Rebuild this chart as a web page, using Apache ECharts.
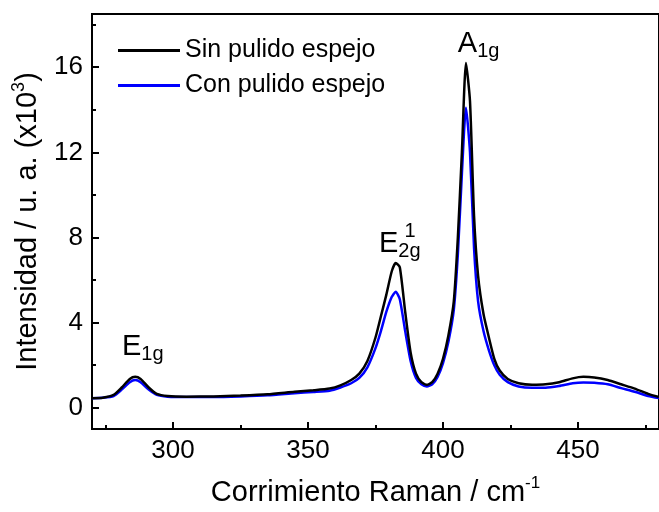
<!DOCTYPE html>
<html>
<head>
<meta charset="utf-8">
<script src="https://cdn.jsdelivr.net/npm/echarts@6/dist/echarts.min.js"></script>
<style>
html,body{margin:0;padding:0;background:#fff;}
#chart{width:659px;height:512px;}
</style>
</head>
<body>
<div id="chart"></div>
<script>
// Raman shift (cm^-1)
var ramanShift = [270, 274, 278, 281, 284, 286, 288, 291, 294, 298, 305, 315, 325, 335, 345, 352, 358, 362, 366, 369, 372, 375, 377, 379, 381, 382.5, 384, 386, 388, 390, 392, 394, 396, 398, 400, 402, 404, 405.5, 407, 408.5, 410, 411.5, 413, 415, 417, 419, 421, 424, 428, 433, 438, 443, 448, 452, 456, 461, 466, 471, 476, 480];
// Intensity (x10^3) - Sin pulido espejo
var sinPulido = [0.45, 0.47, 0.6, 0.95, 1.35, 1.45, 1.35, 0.95, 0.65, 0.55, 0.52, 0.53, 0.57, 0.63, 0.75, 0.82, 0.9, 1.05, 1.3, 1.6, 2.2, 3.3, 4.3, 5.3, 6.4, 6.8, 6.6, 4.5, 2.6, 1.6, 1.2, 1.08, 1.2, 1.6, 2.3, 3.4, 5.0, 8.0, 12.0, 16.2, 14.4, 9.0, 6.2, 4.4, 3.3, 2.3, 1.75, 1.35, 1.15, 1.08, 1.1, 1.2, 1.38, 1.45, 1.42, 1.3, 1.1, 0.9, 0.65, 0.5];
// Intensity (x10^3) - Con pulido espejo
var conPulido = [0.45, 0.47, 0.55, 0.85, 1.2, 1.3, 1.2, 0.85, 0.6, 0.52, 0.5, 0.5, 0.53, 0.58, 0.68, 0.74, 0.8, 0.95, 1.15, 1.4, 1.9, 2.8, 3.6, 4.5, 5.2, 5.45, 5.1, 3.6, 2.2, 1.4, 1.1, 1.0, 1.1, 1.45, 2.1, 3.1, 4.6, 7.2, 11.0, 14.1, 12.0, 7.5, 5.0, 3.6, 2.7, 2.0, 1.55, 1.2, 1.0, 0.94, 0.94, 1.02, 1.15, 1.19, 1.17, 1.1, 0.92, 0.75, 0.55, 0.45];

var seriesNames = ['Sin pulido espejo', 'Con pulido espejo'];
var xMajorTicks = [300, 350, 400, 450];
var xMinorTicks = [275, 325, 375, 425, 475];
var yMajorTicks = [0, 4, 8, 12, 16];
var yMinorTicks = [2, 6, 10, 14, 18];
var xRange = [270, 480];
var yRange = [-1, 18.5];

// peak annotations: [x, y] in data units
var peakA1g = [413.2, 17.0];
var peakE2g = [384.0, 7.6];
var peakE2gSup = [387.8, 8.3];
var peakE1g = [288.8, 2.8];

function pairs(xs, ys) { return xs.map(function (x, i) { return [x, ys[i]]; }); }

var FONT = '"Liberation Sans", Arial, sans-serif';
var chart = echarts.init(document.getElementById('chart'), null, {renderer: 'canvas'});

var labelRich = {
  m: {fontSize: 29, fontFamily: FONT, color: '#000', lineHeight: 32, verticalAlign: 'top'},
  s: {fontSize: 20, fontFamily: FONT, color: '#000', lineHeight: 32, verticalAlign: 'bottom'},
  sup: {fontSize: 20, fontFamily: FONT, color: '#000'}
};

function mp(coord, text) {
  return {coord: coord, symbol: 'circle', symbolSize: 1, itemStyle: {color: 'rgba(0,0,0,0)'},
    label: {show: true, position: 'inside', formatter: text, rich: labelRich}};
}

chart.setOption({
  animation: false,
  backgroundColor: '#fff',
  grid: {left: 92, top: 14, right: -7, bottom: 77, show: true, borderColor: '#000', borderWidth: 2, containLabel: false},
  legend: {
    orient: 'vertical', left: 113, top: 30, itemWidth: 62, itemHeight: 3, itemGap: 4, icon: 'rect',
    textStyle: {fontSize: 25, fontFamily: FONT, color: '#000', lineHeight: 31},
    data: [
      {name: seriesNames[0], itemStyle: {color: '#000'}},
      {name: seriesNames[1], itemStyle: {color: '#0000ff'}}
    ]
  },
  xAxis: [{
    type: 'value', min: xRange[0], max: xRange[1], position: 'bottom',
    name: '{a|Corrimiento Raman / cm}{sup|-1}', nameLocation: 'middle', nameGap: 46,
    nameTextStyle: {rich: {a: {fontSize: 29, fontFamily: FONT, color: '#000', lineHeight: 32, verticalAlign: 'bottom'},
      sup: {fontSize: 17, fontFamily: FONT, color: '#000', lineHeight: 32, verticalAlign: 'top'}}},
    axisLine: {show: true, onZero: false, lineStyle: {color: '#000', width: 2}},
    axisTick: {show: true, inside: true, length: 7, lineStyle: {color: '#000', width: 2}, customValues: xMajorTicks},
    axisLabel: {show: true, fontSize: 26, fontFamily: FONT, color: '#000', margin: 9, customValues: xMajorTicks},
    splitLine: {show: false}
  }, {
    type: 'value', min: xRange[0], max: xRange[1], position: 'bottom', gridIndex: 0,
    axisLine: {show: false, onZero: false}, axisLabel: {show: false}, splitLine: {show: false},
    axisTick: {show: true, inside: true, length: 4, lineStyle: {color: '#000', width: 2}, customValues: xMinorTicks}
  }],
  yAxis: [{
    type: 'value', min: yRange[0], max: yRange[1], position: 'left',
    name: '{a|Intensidad / u. a. (x10}{sup|3}{a|)}', nameLocation: 'middle', nameGap: 50, nameRotate: 90,
    nameTextStyle: {rich: {a: {fontSize: 29, fontFamily: FONT, color: '#000', lineHeight: 32, verticalAlign: 'bottom'},
      sup: {fontSize: 18, fontFamily: FONT, color: '#000', lineHeight: 32, verticalAlign: 'top'}}},
    axisLine: {show: true, onZero: false, lineStyle: {color: '#000', width: 2}},
    axisTick: {show: true, inside: true, length: 7, lineStyle: {color: '#000', width: 2}, customValues: yMajorTicks},
    axisLabel: {show: true, fontSize: 26, fontFamily: FONT, color: '#000', margin: 9, customValues: yMajorTicks},
    splitLine: {show: false}
  }, {
    type: 'value', min: yRange[0], max: yRange[1], position: 'left', gridIndex: 0,
    axisLine: {show: false, onZero: false}, axisLabel: {show: false}, splitLine: {show: false},
    axisTick: {show: true, inside: true, length: 4, lineStyle: {color: '#000', width: 2}, customValues: yMinorTicks}
  }],
  series: [{
    name: seriesNames[0], type: 'line', xAxisIndex: 0, yAxisIndex: 0,
    data: pairs(ramanShift, sinPulido), showSymbol: false, symbol: 'none', smooth: 0.2,
    lineStyle: {color: '#000', width: 2.5}, itemStyle: {color: '#000'}, z: 3,
    markPoint: {
      silent: true,
      data: [
        mp(peakA1g, '{m|A}{s|1g}'),
        mp(peakE2g, '{m|E}{s|2g}'),
        mp(peakE2gSup, '{sup|1}'),
        mp(peakE1g, '{m|E}{s|1g}')
      ]
    }
  }, {
    name: seriesNames[1], type: 'line', xAxisIndex: 0, yAxisIndex: 0,
    data: pairs(ramanShift, conPulido), showSymbol: false, symbol: 'none', smooth: 0.2,
    lineStyle: {color: '#0000ff', width: 2.5}, itemStyle: {color: '#0000ff'}, z: 2
  }]
});
</script>
</body>
</html>
